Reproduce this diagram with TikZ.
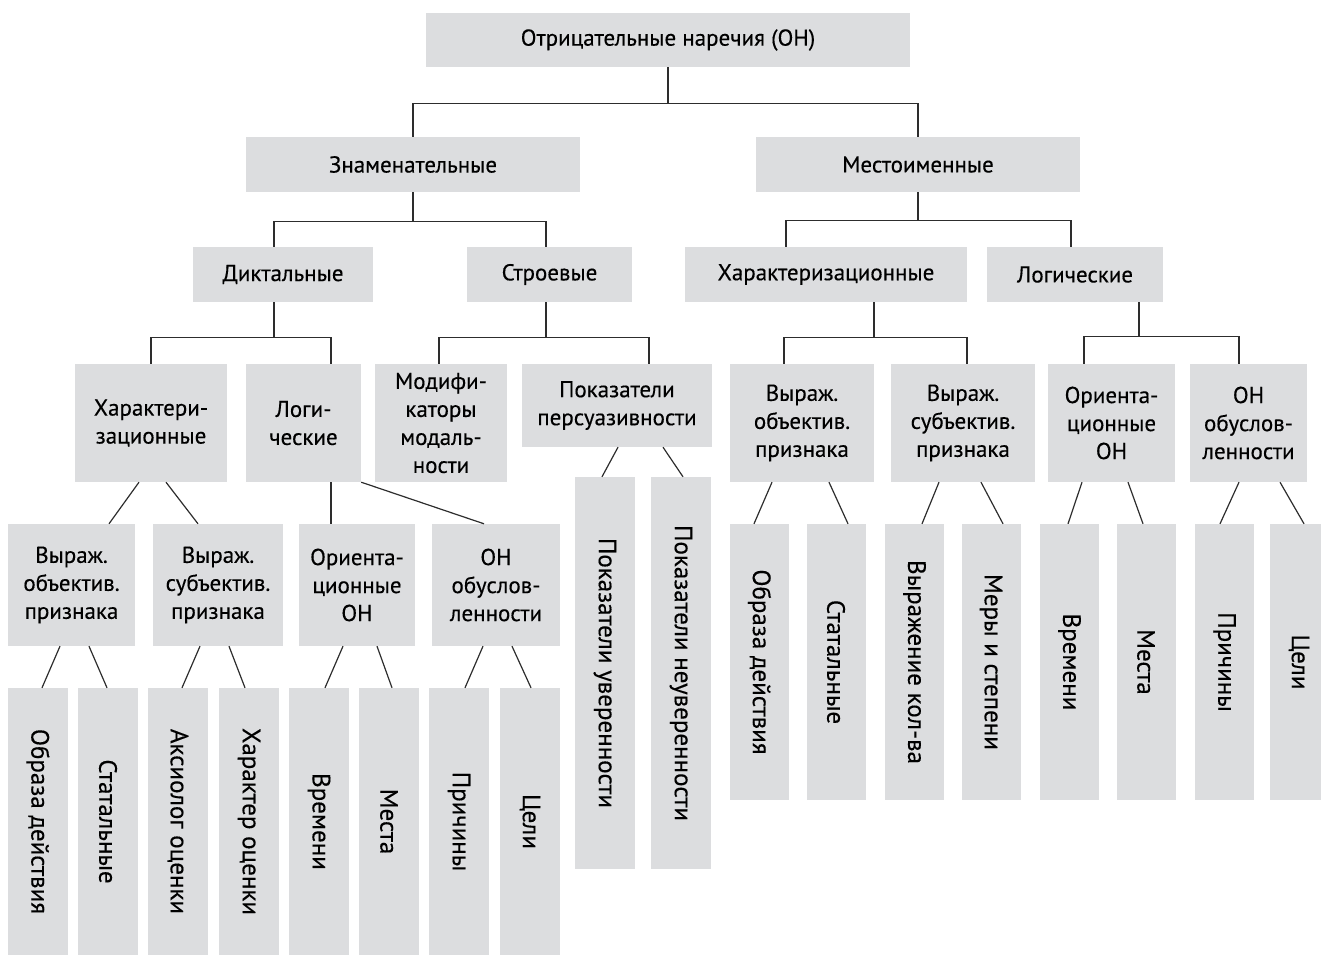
\documentclass[tikz,border=0pt]{standalone}
\usepackage{fontspec}
\setmainfont{PT Sans}[FakeBold=0.3]
\usepackage{xcolor}
\usepackage{tikz}
\usetikzlibrary{positioning}
\definecolor{boxgray}{RGB}{220, 221, 223}
\definecolor{linegray}{RGB}{45, 45, 45}
\newcommand{\boxfont}{\fontsize{23}{28}\selectfont}
\newcommand{\leaffont}{\fontsize{25}{30}\selectfont}

\begin{document}
\begin{tikzpicture}[x=1pt, y=-1pt,
    cell/.style={fill=boxgray, align=center, inner sep=0pt, font=\boxfont},
    leaf/.style={cell, font=\leaffont},
    link/.style={draw=linegray, line width=1.2pt}]
\useasboundingbox (0,0) rectangle (1321,957);

% Level 1 and 2
\node[cell, minimum width=484, minimum height=54] (root) at (668,40) {Отрицательные наречия (ОН)};
\node[cell, minimum width=334, minimum height=55] (znam) at (413,164.5) {Знаменательные};
\node[cell, minimum width=324, minimum height=55] (mest) at (918,164.5) {Местоименные};

% Level 3
\node[cell, minimum width=180, minimum height=55] (dikt) at (283,274.5) {Диктальные};
\node[cell, minimum width=165, minimum height=55] (stroev) at (549.5,274.5) {Строевые};
\node[cell, minimum width=282, minimum height=55] (xarR) at (826,274.5) {Характеризационные};
\node[cell, minimum width=176, minimum height=55] (logR) at (1075,274.5) {Логические};

% Level 4
\node[cell, minimum width=152, minimum height=118] (xarL) at (151,423) {Характери-\\зационные};
\node[cell, minimum width=115, minimum height=118] (logL) at (303.5,423) {Логи-\\ческие};
\node[cell, minimum width=132, minimum height=118] (mod) at (441,423) {Модифи-\\каторы\\модаль-\\ности};
\node[cell, minimum width=190, minimum height=83] (pok) at (617,405.5) {Показатели\\персуазивности};
\node[cell, minimum width=144, minimum height=118] (vobR) at (802,423) {Выраж.\\объектив.\\признака};
\node[cell, minimum width=144, minimum height=118] (vsubR) at (963,423) {Выраж.\\субъектив.\\признака};
\node[cell, minimum width=127, minimum height=118] (orR) at (1111.5,423) {Ориента-\\ционные\\ОН};
\node[cell, minimum width=117, minimum height=118] (obuR) at (1248.5,423) {ОН\\обуслов-\\ленности};

% Level 5, left
\node[cell, minimum width=127, minimum height=122] (vobL) at (71.5,585) {Выраж.\\объектив.\\признака};
\node[cell, minimum width=130, minimum height=122] (vsubL) at (218,585) {Выраж.\\субъектив.\\признака};
\node[cell, minimum width=116, minimum height=122] (orL) at (357,585) {Ориента-\\ционные\\ОН};
\node[cell, minimum width=128, minimum height=122] (obuL) at (496,585) {ОН\\обуслов-\\ленности};

% Vertical leaves
\foreach \n/\x/\t in {uver/605/Показатели уверенности, neuv/681/Показатели неуверенности}
    \node[leaf, minimum width=60, minimum height=392] (\n) at (\x,673) {\rotatebox{-90}{\t}};

\foreach \n/\x/\t in {rA/759.5/Образа действия, rB/836/Статальные, rC/914.5/Выражение кол-ва,
    rD/991/Меры и степени, rE/1069.5/Времени, rF/1146/Места, rG/1224.5/Причины, rH/1299/Цели}
    \node[leaf, minimum width=59, minimum height=276] (\n) at (\x,662) {\rotatebox{-90}{\t}};

\foreach \n/\x/\t in {lA/38/Образа действия, lB/108/Статальные, lC/178/Аксиолог оценки,
    lD/249/Характер оценки, lE/319/Времени, lF/389/Места, lG/459/Причины, lH/530/Цели}
    \node[leaf, minimum width=60, minimum height=267] (\n) at (\x,821.5) {\rotatebox{-90}{\t}};

% Orthogonal connectors
\draw[link] (root.south) -- ++(0,36) coordinate (j0);
\draw[link] (znam.north) |- (j0) -| (mest.north);
\draw[link] (znam.south) -- ++(0,29) coordinate (j1);
\draw[link] ([xshift=-9pt]dikt.north) |- (j1) -| ([xshift=-3.5pt]stroev.north);
\draw[link] (mest.south) -- ++(0,28) coordinate (j2);
\draw[link] ([xshift=-40pt]xarR.north) |- (j2) -| ([xshift=-4pt]logR.north);
\draw[link] ([xshift=-9pt]dikt.south) -- ++(0,35) coordinate (j3);
\draw[link] (xarL.north) |- (j3) -| ([xshift=27.5pt]logL.north);
\draw[link] ([xshift=-3.5pt]stroev.south) -- ++(0,35) coordinate (j4);
\draw[link] ([xshift=-2pt]mod.north) |- (j4) -| ([xshift=32pt]pok.north);
\draw[link] ([xshift=48pt]xarR.south) -- ++(0,35) coordinate (j5);
\draw[link] ([xshift=-18pt]vobR.north) |- (j5) -| ([xshift=4pt]vsubR.north);
\draw[link] ([xshift=64pt]logR.south) -- ++(0,34) coordinate (j6);
\draw[link] ([xshift=-27.5pt]orR.north) |- (j6) -| ([xshift=-9.5pt]obuR.north);

% Slanted connectors: parent/shift/child/shift
\foreach \p/\a/\c/\b in {xarL/-12/vobL/37.5, xarL/15/vsubL/-20, logL/27.5/orL/-26,
    pok/1/uver/-3, pok/46/neuv/2,
    vobR/-30/rA/-5.5, vobR/27/rB/12, vsubR/-24/rC/7.5, vsubR/18/rD/12,
    orR/-29.5/rE/-1.5, orR/16.5/rF/-3, obuR/-9.5/rG/-4.5, obuR/31.5/rH/5,
    vobL/-11.5/lA/4, vobL/17.5/lB/-1, vsubL/-18/lC/4, vsubL/11/lD/-4,
    orL/-14/lE/6, orL/20/lF/3, obuL/-13/lG/6, obuL/16/lH/1}
    \draw[link] ([xshift=\a pt]\p.south) -- ([xshift=\b pt]\c.north);
\draw[link] (logL.south east) -- ([xshift=-12pt]obuL.north);
\end{tikzpicture}
\end{document}
